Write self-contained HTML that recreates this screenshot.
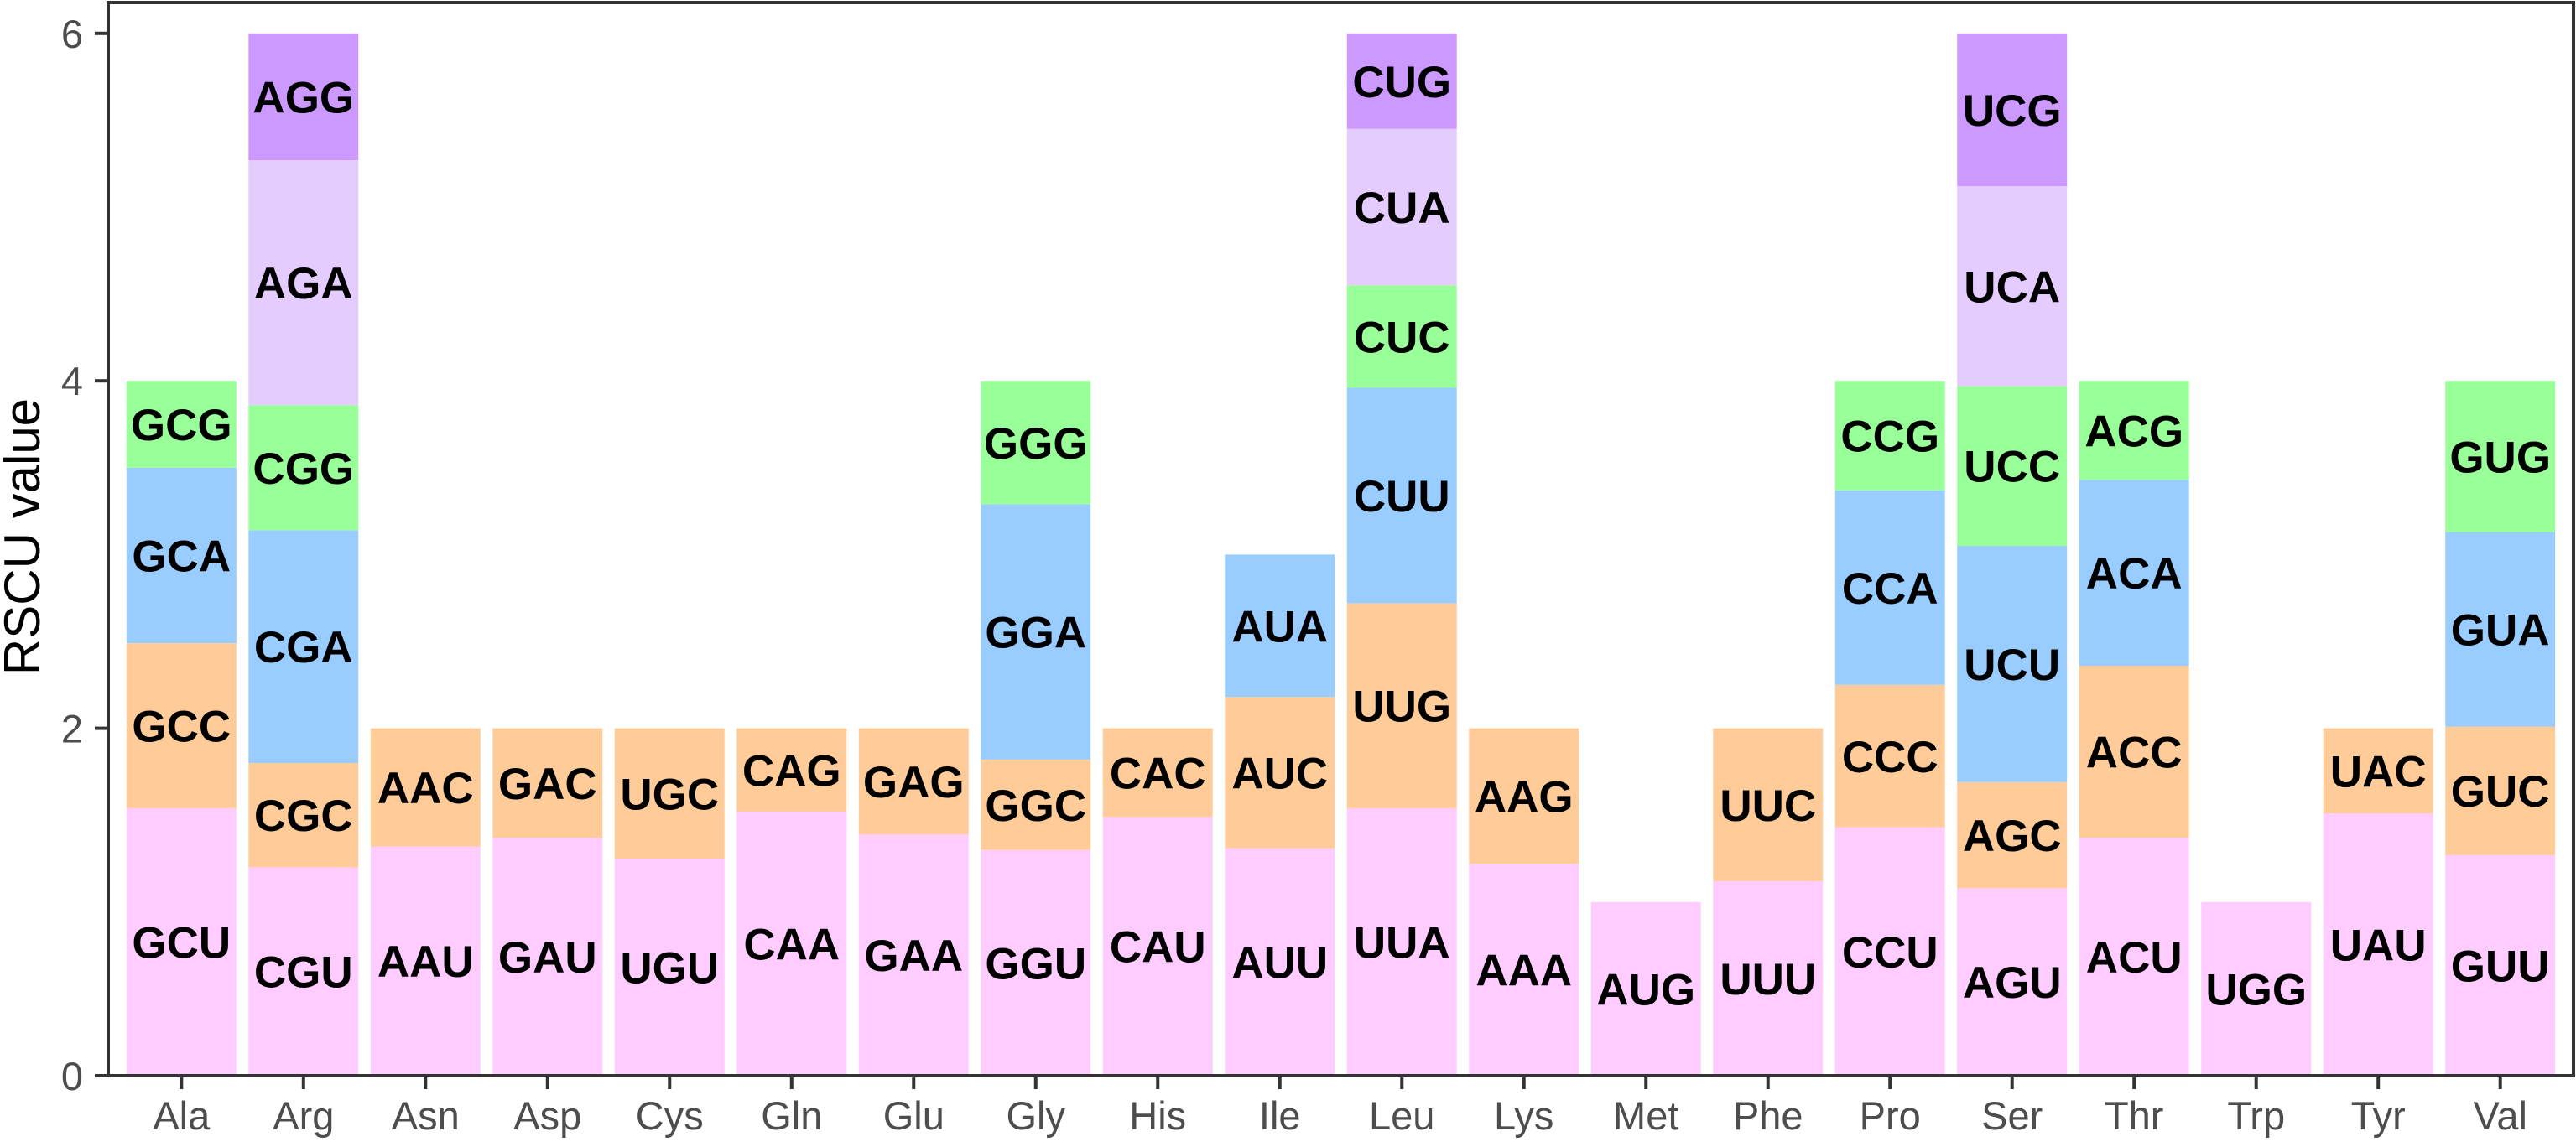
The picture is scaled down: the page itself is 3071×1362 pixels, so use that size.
<!DOCTYPE html>
<html><head><meta charset="utf-8"><style>
html,body{margin:0;padding:0;background:#fff;}
svg text{font-family:"Liberation Sans",Arial,sans-serif;}
</style></head><body>
<svg id="chart" width="3071" height="1357" xmlns="http://www.w3.org/2000/svg">
<g id="bars"></g>
<g id="axes"></g>
</svg>
<script>
const aminoAcids = ["Ala","Arg","Asn","Asp","Cys","Gln","Glu","Gly","His","Ile","Leu","Lys","Met","Phe","Pro","Ser","Thr","Trp","Tyr","Val"];
const codons = [
["GCU","GCC","GCA","GCG"],
["CGU","CGC","CGA","CGG","AGA","AGG"],
["AAU","AAC"],["GAU","GAC"],["UGU","UGC"],["CAA","CAG"],["GAA","GAG"],
["GGU","GGC","GGA","GGG"],["CAU","CAC"],["AUU","AUC","AUA"],
["UUA","UUG","CUU","CUC","CUA","CUG"],["AAA","AAG"],["AUG"],["UUU","UUC"],
["CCU","CCC","CCA","CCG"],["AGU","AGC","UCU","UCC","UCA","UCG"],
["ACU","ACC","ACA","ACG"],["UGG"],["UAU","UAC"],["GUU","GUC","GUA","GUG"]];
const rscu = [
[1.54,0.95,1.01,0.50],
[1.20,0.60,1.34,0.72,1.41,0.73],
[1.32,0.68],[1.37,0.63],[1.25,0.75],[1.52,0.48],[1.39,0.61],
[1.30,0.52,1.47,0.71],[1.49,0.51],[1.31,0.87,0.82],
[1.54,1.18,1.24,0.59,0.90,0.55],[1.22,0.78],[1.00],[1.12,0.88],
[1.43,0.82,1.12,0.63],[1.08,0.61,1.36,0.92,1.15,0.88],
[1.37,0.99,1.07,0.57],[1.00],[1.51,0.49],[1.27,0.74,1.12,0.87]];
const yTicks = [0,2,4,6];

const colors = ["#FFCCFF","#FFCC99","#99CCFF","#99FF99","#E5CCFF","#CC99FF"];
const NS="http://www.w3.org/2000/svg";
const L=129, R=3068, T=3, B=1283;
const step=(R-L)/20.2;
const xc=i=>L+step*(0.6+i);
const y=v=>B-v*207.2;
const bw=step*0.9;
function mk(tag,attrs,parent){const e=document.createElementNS(NS,tag);for(const k in attrs)e.setAttribute(k,attrs[k]);parent.appendChild(e);return e;}
const bars=document.getElementById('bars'), axes=document.getElementById('axes');
aminoAcids.forEach((aa,i)=>{
  let cum=0;
  rscu[i].forEach((v,j)=>{
    const r=mk('rect',{x:xc(i)-bw/2,y:y(cum+v),width:bw,height:y(cum)-y(cum+v),fill:colors[j]},bars);
    
    
    const t=mk('text',{x:xc(i),y:y(cum+v/2)+19,'text-anchor':'middle','font-size':53,'font-weight':'bold',fill:'#000'},bars);
    t.textContent=codons[i][j];
    
    
    cum+=v;
  });
  const tk=mk('line',{x1:xc(i),x2:xc(i),y1:B,y2:B+16,stroke:'#333','stroke-width':4},axes);
  
  
  const tl=mk('text',{x:xc(i),y:B+64,'text-anchor':'middle','font-size':47,fill:'#4d4d4d'},axes);
  tl.textContent=aa;
  
  
});
yTicks.forEach(v=>{
  const tk=mk('line',{x1:L-16,x2:L,y1:y(v),y2:y(v),stroke:'#333','stroke-width':4},axes);
  
  
  const tl=mk('text',{x:L-30,y:y(v)+17,'text-anchor':'end','font-size':47,fill:'#4d4d4d'},axes);
  tl.textContent=v;
  
  
});
const frame=mk('rect',{x:L,y:T,width:R-L,height:B-T,fill:'none',stroke:'#333','stroke-width':4},axes);


const yt=mk('text',{x:0,y:0,'text-anchor':'middle','font-size':60,fill:'#000',transform:'translate(47,640) rotate(-90)'},axes);
yt.textContent='RSCU value';


</script>
</body></html>
